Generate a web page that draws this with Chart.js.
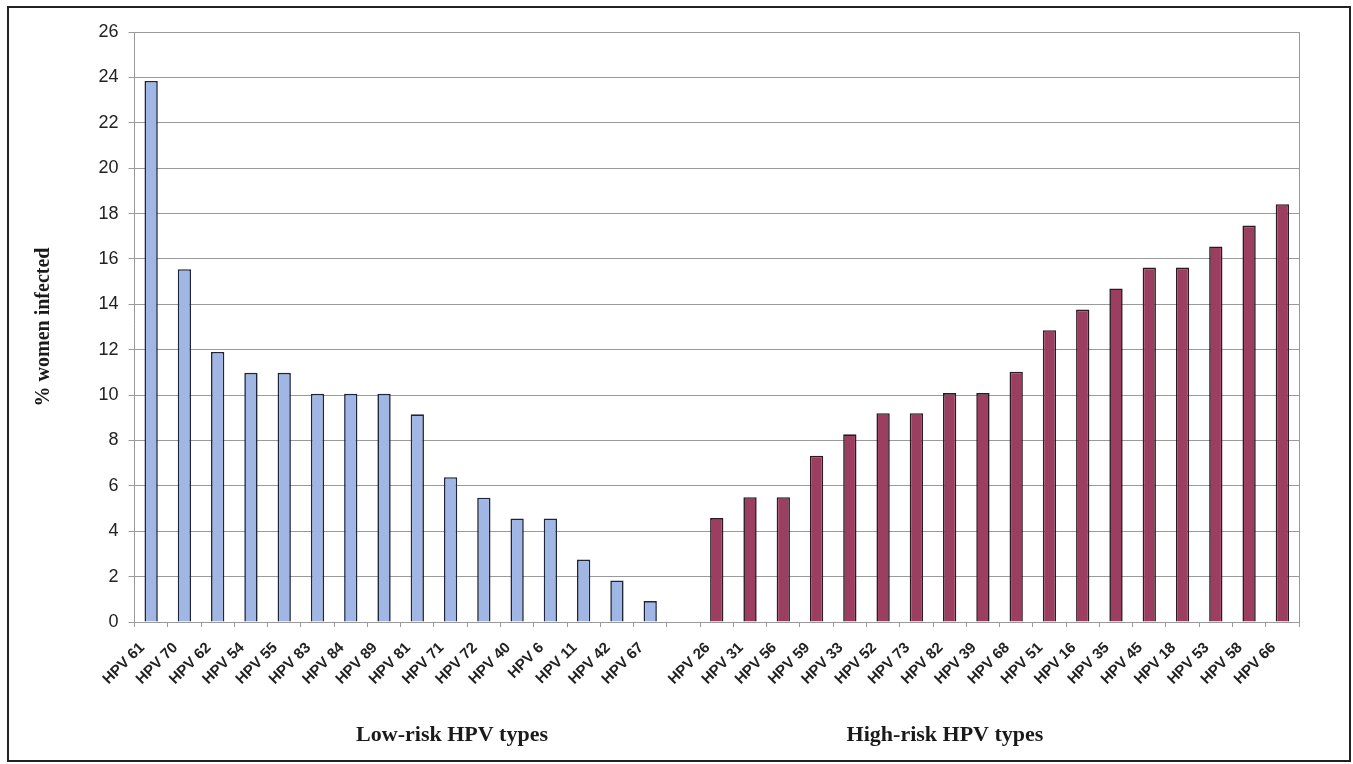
<!DOCTYPE html>
<html>
<head>
<meta charset="utf-8">
<script src="https://cdn.jsdelivr.net/npm/chart.js@4"></script>
<style>
  html, body { margin: 0; padding: 0; background: #fff; }
  #wrap { width: 1353px; height: 764px; position: relative; }
</style>
</head>
<body>
<div id="wrap"><canvas id="c"></canvas></div>
<script>
// ---- data ----
const lowRiskTypes = ["HPV 61","HPV 70","HPV 62","HPV 54","HPV 55","HPV 83","HPV 84","HPV 89","HPV 81","HPV 71","HPV 72","HPV 40","HPV 6","HPV 11","HPV 42","HPV 67"];
const lowRiskValues = [23.84, 15.55, 11.9, 10.98, 10.98, 10.06, 10.06, 10.06, 9.15, 6.38, 5.48, 4.56, 4.56, 2.75, 1.83, 0.92];
const highRiskTypes = ["HPV 26","HPV 31","HPV 56","HPV 59","HPV 33","HPV 52","HPV 73","HPV 82","HPV 39","HPV 68","HPV 51","HPV 16","HPV 35","HPV 45","HPV 18","HPV 53","HPV 58","HPV 66"];
const highRiskValues = [4.58, 5.5, 5.5, 7.33, 8.27, 9.2, 9.2, 10.09, 10.09, 11.03, 12.86, 13.77, 14.7, 15.62, 15.62, 16.55, 17.47, 18.41];
const yTicks = [0,2,4,6,8,10,12,14,16,18,20,22,24,26];
const groupTitles = ["Low-risk HPV types", "High-risk HPV types"];
const yTitle = "% women infected";

// ---- build ----
const labels = [...lowRiskTypes, "", ...highRiskTypes];
const lowData = [...lowRiskValues, null, ...highRiskTypes.map(() => null)];
const highData = [...lowRiskTypes.map(() => null), null, ...highRiskValues];

const framePlugin = {
  id: 'frame',
  beforeDraw(chart) {
    const ctx = chart.ctx;
    ctx.save();
    ctx.fillStyle = '#fff';
    ctx.fillRect(0, 0, chart.width, chart.height);
    ctx.restore();
  },
  beforeDatasetsDraw(chart) {
    const ctx = chart.ctx, a = chart.chartArea;
    ctx.save();
    ctx.strokeStyle = '#9a9a9a';
    ctx.lineWidth = 1;
    ctx.beginPath();
    ctx.moveTo(a.right + 0.5, a.top);
    ctx.lineTo(a.right + 0.5, a.bottom);
    ctx.stroke();
    ctx.restore();
  },
  afterDraw(chart) {
    const ctx = chart.ctx, a = chart.chartArea;
    ctx.save();
    ctx.strokeStyle = '#222';
    ctx.lineWidth = 2;
    ctx.strokeRect(8, 7, 1342, 754);
    ctx.fillStyle = '#1a1a1a';
    ctx.font = 'bold 22px "Liberation Serif", "Times New Roman", serif';
    ctx.textAlign = 'center';
    ctx.textBaseline = 'middle';
    const w = a.right - a.left;
    ctx.fillText(groupTitles[0], a.left + w * 0.2727, 735);
    ctx.fillText(groupTitles[1], a.left + w * 0.696, 735);
    ctx.restore();
  }
};

new Chart(document.getElementById('c'), {
  type: 'bar',
  data: {
    labels: labels,
    datasets: [
      { data: lowData, backgroundColor: '#a0b6e4', borderColor: '#1e2538', borderWidth: 1.6 },
      { data: highData, backgroundColor: '#9b3e60', borderColor: '#2a1a22', borderWidth: 1.6 }
    ]
  },
  options: {
    responsive: true,
    maintainAspectRatio: false,
    animation: false,
    layout: { padding: { left: 28, top: 32, right: 54, bottom: 0 } },
    plugins: { legend: { display: false }, tooltip: { enabled: false } },
    datasets: { bar: { grouped: false, categoryPercentage: 1, barPercentage: 0.4 } },
    scales: {
      x: {
        afterFit(scale) { scale.height = 764 - 622; },
        grid: { display: true, drawOnChartArea: false, drawTicks: true, tickLength: 5, color: '#9a9a9a', offset: true },
        border: { display: true, color: '#9a9a9a' },
        ticks: {
          autoSkip: false, maxRotation: 45, minRotation: 45, padding: 12, labelOffset: -9,
          color: '#222',
          font: { family: '"Liberation Sans", Arial, sans-serif', size: 15, weight: 'bold' }
        }
      },
      y: {
        min: 0, max: 26,
        afterFit(scale) { scale.width = 134.5 - 28; },
        afterBuildTicks(scale) { scale.ticks = yTicks.map(v => ({ value: v })); },
        grid: { color: '#9a9a9a', tickLength: 6, drawTicks: true },
        border: { display: true, color: '#9a9a9a' },
        ticks: {
          padding: 10, color: '#222',
          font: { family: '"Liberation Sans", Arial, sans-serif', size: 18 }
        },
        title: {
          display: true, text: yTitle, color: '#1a1a1a',
          font: { family: '"Liberation Serif", "Times New Roman", serif', size: 20, weight: 'bold' },
          padding: { top: 4, bottom: 4 }
        }
      }
    }
  },
  plugins: [framePlugin]
});
</script>
</body>
</html>
